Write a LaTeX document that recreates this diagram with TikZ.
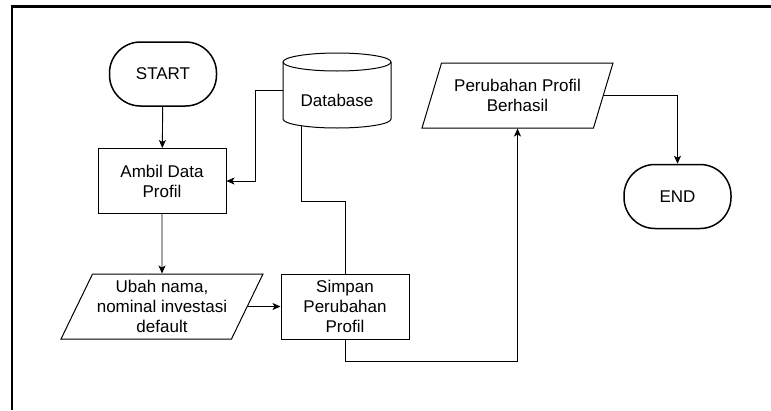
\documentclass[tikz,border=0pt]{standalone}
\usepackage{fontspec}
\setmainfont{Liberation Sans}
\usetikzlibrary{shapes.geometric,arrows.meta}

\begin{document}
\begin{tikzpicture}[x=1pt,y=-1pt,
  every node/.style={font=\fontsize{17}{20}\selectfont, align=center, inner sep=0pt},
  terminal/.style={draw, line width=1.5pt, rounded corners=31pt, fill=white,
    minimum width=107pt, minimum height=64pt},
  process/.style={draw, line width=1pt, fill=white,
    minimum width=128pt, minimum height=65pt},
  io/.style={draw, line width=1pt, fill=white, trapezium, trapezium stretches body,
    trapezium left angle=59, trapezium right angle=121, minimum height=65pt},
  conn/.style={line width=0.9pt},
  flow/.style={conn, -{Stealth[length=8pt,width=7pt,inset=2pt]}}
]
\useasboundingbox (0,0) rectangle (771,410);

% frame lines along the top and left edge
\draw[line width=2.5pt] (12,410) -- (12,6.5) -- (771,6.5);

% shapes
\node[terminal] (start) at (163,74) {START};
\node[process] (ambil) at (162,181) {Ambil Data\\Profil};
\node[io, minimum width=202pt] (ubah) at (162,306.5) {Ubah nama,\\nominal investasi\\default};
\node[process] (simpan) at (345,306.5) {Simpan\\Perubahan\\Profil};
\node[io, minimum width=191pt] (perub) at (517.5,95.5) {Perubahan Profil\\Berhasil};
\node[terminal] (end) at (677.5,196.5) {END};

% database cylinder
\draw[line width=1pt, fill=white]
  (283,62) -- (283,119) arc[start angle=180, end angle=360, x radius=54pt, y radius=9pt]
  -- (391,62) arc[start angle=0, end angle=180, x radius=54pt, y radius=9pt] -- cycle;
\draw[line width=1pt]
  (283,62) arc[start angle=180, end angle=360, x radius=54pt, y radius=9pt];
\node[minimum width=108pt, minimum height=40pt] (db) at (337,100) {Database};
\coordinate (dbw) at (283,90);
\coordinate (dbout) at (301,125.7);
\coordinate (dbturn) at (301,201);
\coordinate (sturn) at (345,361);

% connectors
\draw[flow] (start) -- (ambil);
\draw[flow] (dbw) -- ++(-28,0) |- (ambil.east);
\draw[conn] (dbout) -- (dbturn) -| (simpan.north);
\draw[flow] (ambil) -- (ubah);
\draw[flow] (ubah.east) -- (simpan.west);
\draw[flow] (simpan.south) -- (sturn) -| (perub.south);
\draw[flow] (perub.east) -| (end.north);
\end{tikzpicture}
\end{document}
